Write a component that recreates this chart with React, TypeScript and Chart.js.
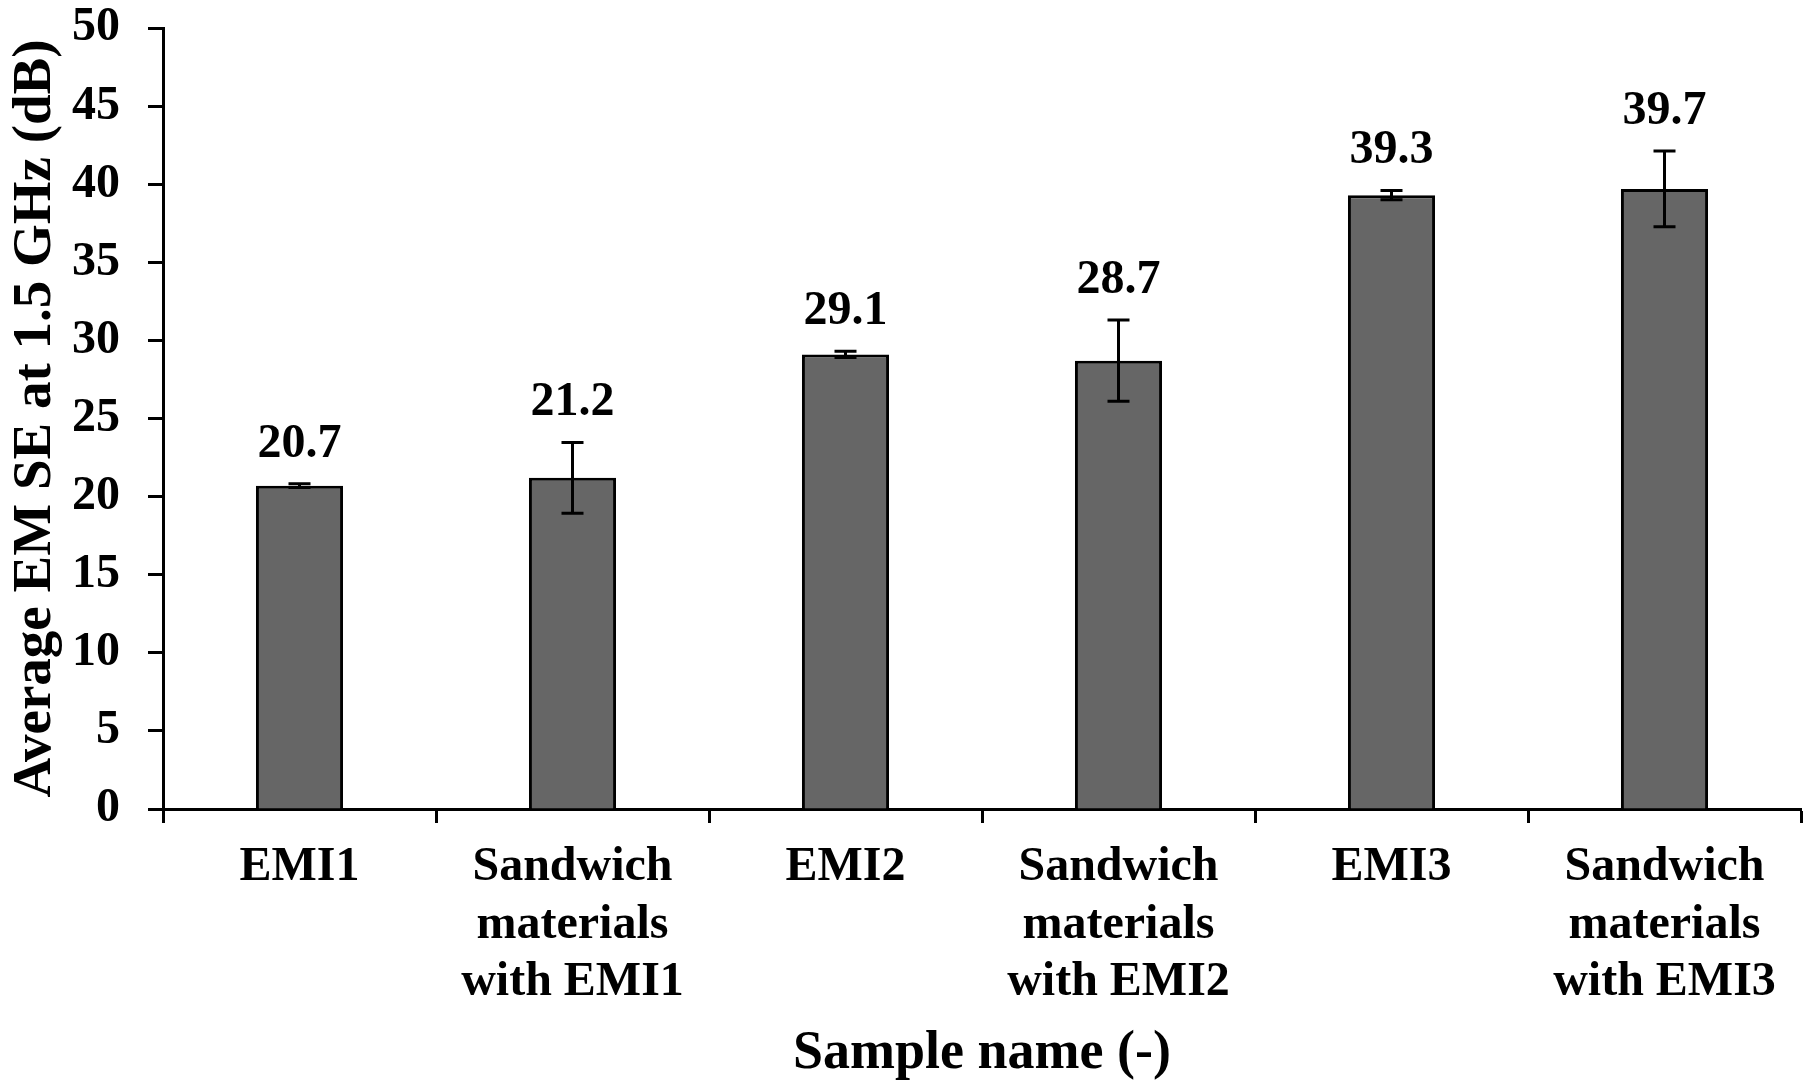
import React, { useEffect, useRef } from "react";
import { Chart, registerables } from "chart.js";

Chart.register(...registerables);

const FONT = "'Liberation Serif', 'Times New Roman', Times, serif";

const categories: (string | string[])[] = [
  "EMI1",
  ["Sandwich", "materials", "with EMI1"],
  "EMI2",
  ["Sandwich", "materials", "with EMI2"],
  "EMI3",
  ["Sandwich", "materials", "with EMI3"],
];
const meanValues = [20.7, 21.2, 29.1, 28.7, 39.3, 39.7];
const errorValues = [0.12, 2.27, 0.2, 2.6, 0.3, 2.43];
const valueLabels = ["20.7", "21.2", "29.1", "28.7", "39.3", "39.7"];
const yMin = 0;
const yMax = 50;
const yStep = 5;
const yTitle = "Average EM SE at 1.5 GHz (dB)";
const xTitle = "Sample name (-)";

const errorBarPlugin = {
  id: "errorBarsAndLabels",
  afterDatasetsDraw(chart: any) {
    const { ctx } = chart;
    const meta = chart.getDatasetMeta(0);
    const yScale = chart.scales.y;
    ctx.save();
    ctx.strokeStyle = "#000";
    ctx.lineWidth = 3;
    meta.data.forEach((bar: any, i: number) => {
      const x = bar.x;
      const v = meanValues[i];
      const e = errorValues[i];
      const top = yScale.getPixelForValue(v + e);
      const bot = yScale.getPixelForValue(v - e);
      const cap = 11;
      ctx.beginPath();
      ctx.moveTo(x, top);
      ctx.lineTo(x, bot);
      ctx.moveTo(x - cap, top);
      ctx.lineTo(x + cap, top);
      ctx.moveTo(x - cap, bot);
      ctx.lineTo(x + cap, bot);
      ctx.stroke();
      ctx.fillStyle = "#000";
      ctx.font = `bold 48px ${FONT}`;
      ctx.textAlign = "center";
      ctx.textBaseline = "alphabetic";
      ctx.fillText(valueLabels[i], x, top - 27);
    });
    ctx.restore();
  },
};

export default function App() {
  const ref = useRef<HTMLCanvasElement | null>(null);
  useEffect(() => {
    if (!ref.current) return;
    const chart = new Chart(ref.current, {
      type: "bar",
      data: {
        labels: categories as any,
        datasets: [
          {
            data: meanValues,
            backgroundColor: "#666666",
            borderColor: "#000000",
            borderWidth: 3,
            barPercentage: 0.319,
            categoryPercentage: 1.0,
          },
        ],
      },
      options: {
        animation: false,
        responsive: false,
        devicePixelRatio: 1,
        layout: { padding: { top: 28, right: 9, left: 0, bottom: 0 } },
        plugins: {
          legend: { display: false },
          tooltip: { enabled: false },
        },
        scales: {
          x: {
            offset: true,
            afterFit: (s: any) => {
              s.height = 283;
              s.paddingLeft = 0;
              s.paddingRight = 0;
              s.paddingTop = 0;
              s.paddingBottom = 0;
            },
            grid: {
              offset: true,
              drawOnChartArea: false,
              drawTicks: true,
              tickLength: 14,
              tickWidth: 3,
              tickColor: "#000",
              color: "#000",
            },
            border: { display: true, color: "#000", width: 3 },
            ticks: {
              color: "#000",
              padding: 16,
              maxRotation: 0,
              autoSkip: false,
              font: { family: FONT, size: 48, weight: "bold", lineHeight: 1.2 },
            },
            title: {
              display: true,
              text: xTitle,
              color: "#000",
              font: { family: FONT, size: 54, weight: "bold", lineHeight: 1.0 },
              padding: { top: 0, bottom: 11 },
            },
          },
          y: {
            min: yMin,
            max: yMax,
            afterFit: (s: any) => {
              s.width = 163;
              s.paddingTop = 0;
              s.paddingBottom = 0;
              s.paddingLeft = 0;
              s.paddingRight = 0;
            },
            grid: {
              drawOnChartArea: false,
              drawTicks: true,
              tickLength: 15,
              tickWidth: 3,
              tickColor: "#000",
              color: "#000",
            },
            border: { display: true, color: "#000", width: 3 },
            ticks: {
              stepSize: yStep,
              color: "#000",
              padding: 28,
              font: { family: FONT, size: 48, weight: "bold", lineHeight: 1.1 },
            },
            title: {
              display: true,
              text: yTitle,
              color: "#000",
              font: { family: FONT, size: 55, weight: "bold", lineHeight: 1.0 },
              padding: { top: 8, bottom: 0 },
            },
          },
        },
      },
      plugins: [errorBarPlugin],
    });
    return () => chart.destroy();
  }, []);
  return (
    <div
      style={{
        position: "absolute",
        left: 0,
        top: 0,
        width: 1810,
        height: 1092,
        background: "#ffffff",
      }}
    >
      <canvas ref={ref} width={1810} height={1092} style={{ display: "block" }} />
    </div>
  );
}
